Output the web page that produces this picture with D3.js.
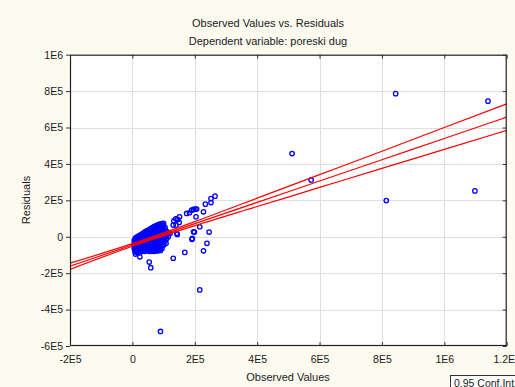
<!DOCTYPE html>
<html>
<head>
<meta charset="utf-8">
<script src="https://cdn.jsdelivr.net/npm/d3@7"></script>
<style>
  html, body { margin: 0; padding: 0; background: #fdfaf0; }
  svg { display: block; font-family: "Liberation Sans", Arial, sans-serif; }
</style>
</head>
<body>
<svg id="chart" width="515" height="387"></svg>
<script>
// Observed values vs. residuals (values in thousands: [observed, residual])
const pointsK = [
  // isolated cases
  [512, 457], [573, 312], [844, 786], [814, 199], [1140, 745], [1098, 252],
  [90, -520], [216, -292], [59, -170], [54, -139], [24, -110], [131, -118],
  [168, -86], [228, -77], [239, -36], [191, -14], [246, 26], [216, 55],
  [199, 26], [144, 13], [108, -36], [98, -24], [228, 137], [265, 223],
  [252, 210], [252, 188], [234, 179], [204, 110], [201, 152], [190, 146],
  [183, 132], [174, 128], [206, 152], [151, 110], [145, 95], [150, 79],
  [133, 88], [131, 64], [139, 99], [121, 19], [99, 59], [196, 150],
  [140, 64], [192, -9], [196, 27], [99, 55], [105, 9], [115, 19], [142, 19],
  // main group of small observed values
  [6, -20], [6, -35], [6, -50], [6, -65],
  [8, -15], [8, -30], [8, -45], [8, -60], [8, -80],
  [10, -8], [10, -25], [10, -40], [10, -55], [10, -70], [10, -95],
  [13, -5], [13, -20], [13, -35], [13, -50], [13, -85],
  [16, 0], [16, -15], [16, -30], [16, -45], [16, -60], [16, -75],
  [19, 3], [19, -12], [19, -28], [19, -42], [19, -58], [19, -90],
  [22, 5], [22, -8], [22, -22], [22, -38], [22, -52], [22, -70],
  [25, 8], [25, -5], [25, -18], [25, -32], [25, -48], [25, -62], [25, -85],
  [28, 12], [28, -2], [28, -15], [28, -28], [28, -44], [28, -60], [28, -78],
  [31, 15], [31, 2], [31, -12], [31, -25], [31, -40], [31, -55], [31, -78],
  [34, 18], [34, 5], [34, -8], [34, -22], [34, -36], [34, -52], [34, -68],
  [37, 22], [37, 8], [37, -5], [37, -18], [37, -32], [37, -48], [37, -70],
  [40, 25], [40, 12], [40, -2], [40, -15], [40, -30], [40, -45], [40, -62], [40, -80],
  [43, 28], [43, 15], [43, 2], [43, -12], [43, -26], [43, -40], [43, -60],
  [46, 32], [46, 18], [46, 5], [46, -8], [46, -22], [46, -38], [46, -55], [46, -75],
  [50, 35], [50, 22], [50, 8], [50, -5], [50, -20], [50, -35], [50, -55], [50, -70],
  [54, 40], [54, 26], [54, 12], [54, -2], [54, -16], [54, -30], [54, -45], [54, -65], [54, -80],
  [58, 44], [58, 30], [58, 15], [58, 2], [58, -12], [58, -28], [58, -48], [58, -62],
  [62, 48], [62, 34], [62, 18], [62, 5], [62, -10], [62, -25], [62, -40], [62, -55], [62, -70], [62, -80],
  [66, 52], [66, 38], [66, 22], [66, 8], [66, -6], [66, -25], [66, -40], [66, -55], [66, -70],
  [70, 56], [70, 42], [70, 28], [70, 12], [70, -4], [70, -20], [70, -42], [70, -55], [70, -70], [70, -80],
  [75, 60], [75, 46], [75, 32], [75, 16], [75, 0], [75, -15], [75, -30], [75, -45], [75, -60], [75, -75],
  [80, 64], [80, 50], [80, 36], [80, 20], [80, 5], [80, -10], [80, -20], [80, -35], [80, -50], [80, -65], [80, -78],
  [85, 68], [85, 54], [85, 40], [85, 24], [85, 8], [85, -5], [85, -20], [85, -35], [85, -50], [85, -70],
  [90, 70], [90, 58], [90, 44], [90, 28], [90, 12], [90, -10], [90, -25], [90, -40], [90, -60], [90, -75],
  [95, 72], [95, 60], [95, 48], [95, 32], [95, 15], [95, 0], [95, -15], [95, -30], [95, -50], [95, -65],
  [100, 74], [100, 62], [100, 45], [100, 30], [100, 15], [100, -5], [100, -20], [100, -45],
  [105, 50], [105, 35], [105, 20], [105, 0], [105, -25],
  [110, 30], [110, 10], [110, -10],
  [115, 20], [115, 0]
];

// Regression of residuals on observed values with 0.95 confidence band
const fitX     = [-200000, 0, 200000, 400000, 600000, 800000, 1000000, 1200000];
const fitY     = [-162000, -45000, 72000, 189000, 306000, 423000, 540000, 657000];
const fitUpper = [-145000, -38000, 83000, 212000, 341000, 470000, 600000, 730000];
const fitLower = [-179000, -52000, 61000, 166000, 271000, 376000, 480000, 584000];

// Axis ticks
const xTickValues = [-200000, 0, 200000, 400000, 600000, 800000, 1000000, 1200000];
const xTickLabels = ["-2E5", "0", "2E5", "4E5", "6E5", "8E5", "1E6", "1.2E6"];
const yTickValues = [-600000, -400000, -200000, 0, 200000, 400000, 600000, 800000, 1000000];
const yTickLabels = ["-6E5", "-4E5", "-2E5", "0", "2E5", "4E5", "6E5", "8E5", "1E6"];

const svg = d3.select("#chart");
const W = 515, H = 387;
const plot = { left: 70, right: 506.7, top: 54.7, bottom: 346 };

const x = d3.scaleLinear().domain([-200000, 1200000]).range([plot.left, plot.right]);
const y = d3.scaleLinear().domain([-600000, 1000000]).range([plot.bottom, plot.top]);

svg.append("rect").attr("width", W).attr("height", H).attr("fill", "#fdfaf0");
svg.append("rect")
  .attr("x", plot.left).attr("y", plot.top)
  .attr("width", plot.right - plot.left).attr("height", plot.bottom - plot.top)
  .attr("fill", "#ffffff");

// Grid
const grid = svg.append("g").attr("stroke", "#dedede").attr("stroke-width", 1);
grid.selectAll("line.gx").data(xTickValues.slice(1, -1)).join("line")
  .attr("x1", d => Math.round(x(d)) + 0.5).attr("x2", d => Math.round(x(d)) + 0.5)
  .attr("y1", plot.top).attr("y2", plot.bottom);
grid.selectAll("line.gy").data(yTickValues.slice(1, -1)).join("line")
  .attr("y1", d => Math.round(y(d)) + 0.5).attr("y2", d => Math.round(y(d)) + 0.5)
  .attr("x1", plot.left).attr("x2", plot.right);

// Clip for data marks
svg.append("clipPath").attr("id", "clip").append("rect")
  .attr("x", plot.left).attr("y", plot.top)
  .attr("width", plot.right - plot.left).attr("height", plot.bottom - plot.top);

const marks = svg.append("g").attr("clip-path", "url(#clip)");

// Points
marks.selectAll("circle").data(pointsK).join("circle")
  .attr("cx", d => x(d[0] * 1000))
  .attr("cy", d => y(d[1] * 1000))
  .attr("r", 2.2)
  .attr("fill", "none")
  .attr("stroke", "#0000ff")
  .attr("stroke-width", 1.3);

// Fit line and confidence band
const line = d3.line().x((d, i) => x(fitX[i])).y(d => y(d)).curve(d3.curveMonotoneX);
[fitUpper, fitY, fitLower].forEach(s => {
  marks.append("path").attr("d", line(s))
    .attr("fill", "none").attr("stroke", "#ff0000").attr("stroke-width", 1.2);
});

// Frame
svg.append("rect")
  .attr("x", plot.left + 0.5).attr("y", plot.top + 0.5)
  .attr("width", plot.right - plot.left - 1).attr("height", plot.bottom - plot.top - 1)
  .attr("fill", "none").attr("stroke", "#202020").attr("stroke-width", 1.2);

// Axes
const xAxis = d3.axisBottom(x).tickValues(xTickValues)
  .tickFormat((d, i) => xTickLabels[i]).tickSize(-4).tickPadding(10);
const gx = svg.append("g").attr("transform", `translate(0,${plot.bottom})`).call(xAxis);
gx.select(".domain").remove();
gx.selectAll("text").attr("font-size", 10.5).attr("fill", "#1a1a1a")
  .attr("font-family", "Liberation Sans, Arial, sans-serif");
gx.selectAll("line").attr("stroke", "#333");

const xTop = d3.axisTop(x).tickValues(xTickValues).tickFormat("").tickSize(-4);
const gxt = svg.append("g").attr("transform", `translate(0,${plot.top})`).call(xTop);
gxt.select(".domain").remove();
gxt.selectAll("line").attr("stroke", "#333");

const yAxis = d3.axisLeft(y).tickValues(yTickValues)
  .tickFormat((d, i) => yTickLabels[i]).tickSize(4).tickPadding(3);
const gy = svg.append("g").attr("transform", `translate(${plot.left},0)`).call(yAxis);
gy.select(".domain").remove();
gy.selectAll("text").attr("font-size", 10.5).attr("fill", "#1a1a1a")
  .attr("font-family", "Liberation Sans, Arial, sans-serif");
gy.selectAll("line").attr("stroke", "#333");

const yRight = d3.axisRight(y).tickValues(yTickValues).tickFormat("").tickSize(-4);
const gyr = svg.append("g").attr("transform", `translate(${plot.right},0)`).call(yRight);
gyr.select(".domain").remove();
gyr.selectAll("line").attr("stroke", "#333");

// Titles
svg.append("text").attr("x", 268).attr("y", 26.5).attr("text-anchor", "middle")
  .attr("font-size", 11).attr("fill", "#1a1a1a").text("Observed Values vs. Residuals");
svg.append("text").attr("x", 268).attr("y", 44.5).attr("text-anchor", "middle")
  .attr("font-size", 11).attr("fill", "#1a1a1a").text("Dependent variable: poreski dug");
svg.append("text").attr("x", 288).attr("y", 381).attr("text-anchor", "middle")
  .attr("font-size", 11).attr("fill", "#1a1a1a").text("Observed Values");
svg.append("text").attr("transform", "translate(30,200) rotate(-90)")
  .attr("text-anchor", "middle").attr("font-size", 11).attr("fill", "#1a1a1a").text("Residuals");

// Legend
svg.append("rect").attr("x", 450.5).attr("y", 375.5).attr("width", 80).attr("height", 16)
  .attr("fill", "#ffffff").attr("stroke", "#333").attr("stroke-width", 1);
svg.append("text").attr("x", 454).attr("y", 386.5).attr("font-size", 10.5)
  .attr("fill", "#1a1a1a").text("0.95 Conf.Int.");
</script>
</body>
</html>
